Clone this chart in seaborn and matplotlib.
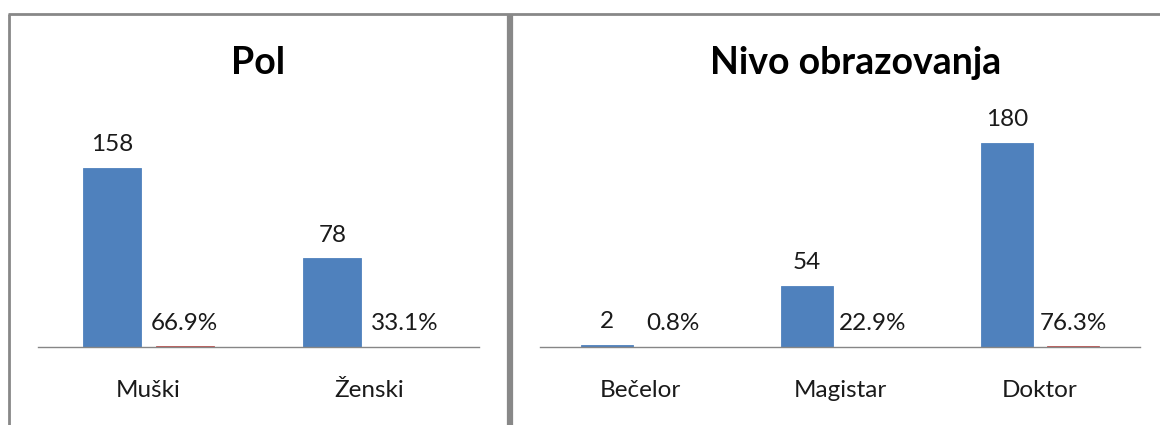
import matplotlib.pyplot as plt
import pandas as pd
import seaborn as sns
from matplotlib.lines import Line2D

# chart data
pol_categories = ["Muški", "Ženski"]
pol_counts = [158, 78]
pol_shares = [0.669, 0.331]

edu_categories = ["Bečelor", "Magistar", "Doktor"]
edu_counts = [2, 54, 180]
edu_shares = [0.008, 0.229, 0.763]

BLUE = "#4F81BD"
RED = "#C0504D"
GRAY = "#868686"
FONT = ["Lato", "DejaVu Sans"]


def long_frame(categories, counts, shares):
    """Build the long table seaborn needs: one row per category and series."""
    rows = []
    for cat, n, s in zip(categories, counts, shares):
        rows.append({"cat": cat, "series": "count", "value": n})
        rows.append({"cat": cat, "series": "share", "value": s})
    return pd.DataFrame(rows)


def draw_panel(ax, title, title_x, categories, counts, shares):
    df = long_frame(categories, counts, shares)
    sns.barplot(
        data=df, x="cat", y="value", hue="series", order=categories,
        hue_order=["count", "share"], palette=[BLUE, RED],
        width=0.66, gap=0.2, legend=False, ax=ax, saturation=1,
    )
    ax.set_ylim(0, 200)
    ax.set_xlabel("")
    ax.set_ylabel("")
    ax.set_yticks([])
    for side in ["left", "right", "top"]:
        ax.spines[side].set_visible(False)
    ax.spines["bottom"].set_color(GRAY)
    ax.spines["bottom"].set_linewidth(1)
    ax.tick_params(axis="x", length=0, pad=24, labelsize=17.5)
    for lbl in ax.get_xticklabels():
        lbl.set_family(FONT)
        lbl.set_color("#1a1a1a")

    count_bars, share_bars = ax.containers[0], ax.containers[1]
    # a hairline edge so the tiny bars still show, as in the original
    for bar in list(count_bars) + list(share_bars):
        bar.set_edgecolor(bar.get_facecolor())
        bar.set_linewidth(0.6)
    ax.bar_label(count_bars, labels=[str(n) for n in counts], padding=9,
                 fontsize=17.5, family=FONT, color="#1a1a1a")
    ax.bar_label(share_bars, labels=[f"{s * 100:.1f}%" for s in shares], padding=9,
                 fontsize=17.5, family=FONT, color="#1a1a1a")

    fig.text(title_x / 1160, 1 - 63 / 425, title, ha="center", va="center",
             fontsize=27, fontweight="bold", family=FONT, color="black")


sns.set_style("white")
plt.rcParams["font.family"] = FONT

fig = plt.figure(figsize=(11.6, 4.25), dpi=100)

axis_h = 227 / 425
ax_left = fig.add_axes([38 / 1160, 78 / 425, 441 / 1160, axis_h])
ax_right = fig.add_axes([540 / 1160, 78 / 425, 600 / 1160, axis_h])

draw_panel(ax_left, "Pol", 258, pol_categories, pol_counts, pol_shares)
draw_panel(ax_right, "Nivo obrazovanja", 856, edu_categories, edu_counts, edu_shares)


# panel frames
def fig_line(x0, y0, x1, y1, lw):
    fig.add_artist(Line2D([x0 / 1160, x1 / 1160], [1 - y0 / 425, 1 - y1 / 425],
                          color="#888888", linewidth=lw, solid_capstyle="butt"))


fig_line(8, 14, 1160, 14, 2.0)
fig_line(9, 14, 9, 425, 2.0)
fig_line(510, 14, 510, 425, 4.5)

fig.savefig("out.png", dpi=100, facecolor="white")
